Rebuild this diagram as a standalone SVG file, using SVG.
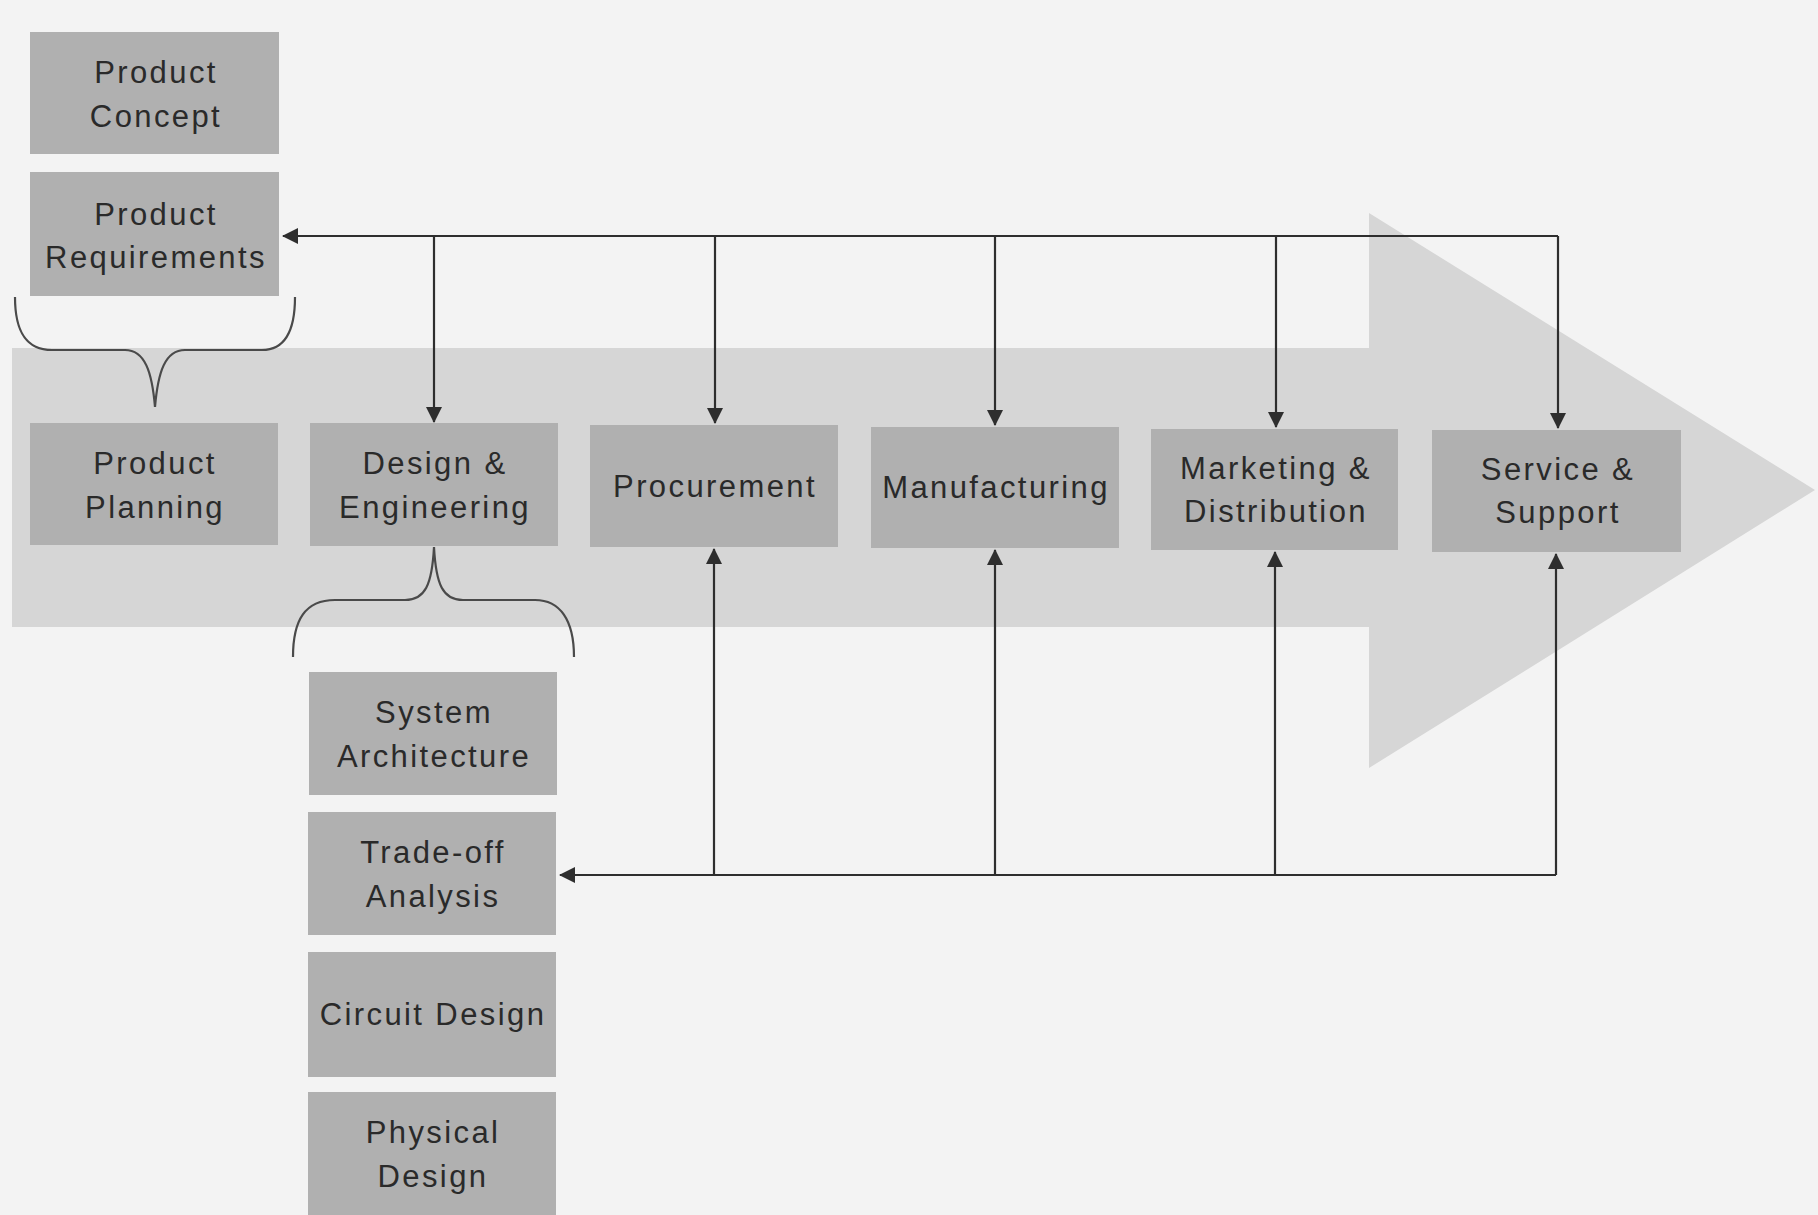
<svg xmlns="http://www.w3.org/2000/svg" width="1818" height="1215" viewBox="0 0 1818 1215">
<style>
.box{fill:#b0b0b0}
.lbl{font-family:"Liberation Sans",Arial,Helvetica,sans-serif;font-size:31px;letter-spacing:2.4px;fill:#2a2a2a;text-anchor:middle}
.ln{stroke:#2e2e2e;stroke-width:2.2;fill:none}
.brace{stroke:#4a4a4a;stroke-width:2.2;fill:none}
</style>
<defs>
<marker id="ah" viewBox="0 0 16 16" refX="15" refY="8" markerWidth="16" markerHeight="16" markerUnits="userSpaceOnUse" orient="auto">
<path d="M0,0 L16,8 L0,16 Z" fill="#2e2e2e"/>
</marker>
</defs>
<rect x="0" y="0" width="1818" height="1215" fill="#f3f3f3"/>
<polygon id="big-arrow" points="12,348 1369,348 1369,213 1815,490 1369,768 1369,627 12,627" fill="#d6d6d6"/>
<g id="braces">
<path class="brace" d="M15,297 C15,330 25,350 52,350 L125,350 C145,350 152,372 155,407 C158,372 165,350 185,350 L262,350 C285,350 295,330 295,297"/>
<path class="brace" d="M293,657 C293,620 305,600 335,600 L405,600 C425,600 432,585 434,547 C436,585 443,600 463,600 L535,600 C560,600 574,620 574,657"/>
</g>
<g id="n-concept"><rect class="box" x="30" y="32" width="249" height="122"/><text class="lbl" x="156" y="83">Product</text><text class="lbl" x="156" y="127">Concept</text></g>
<g id="n-requirements"><rect class="box" x="30" y="172" width="249" height="124"/><text class="lbl" x="156" y="225">Product</text><text class="lbl" x="156" y="268">Requirements</text></g>
<g id="n-planning"><rect class="box" x="30" y="423" width="248" height="122"/><text class="lbl" x="155" y="474">Product</text><text class="lbl" x="155" y="518">Planning</text></g>
<g id="n-design"><rect class="box" x="310" y="423" width="248" height="123"/><text class="lbl" x="435" y="474">Design &amp;</text><text class="lbl" x="435" y="518">Engineering</text></g>
<g id="n-procurement"><rect class="box" x="590" y="425" width="248" height="122"/><text class="lbl" x="715" y="497">Procurement</text></g>
<g id="n-manufacturing"><rect class="box" x="871" y="427" width="248" height="121"/><text class="lbl" x="996" y="498">Manufacturing</text></g>
<g id="n-marketing"><rect class="box" x="1151" y="429" width="247" height="121"/><text class="lbl" x="1276" y="479">Marketing &amp;</text><text class="lbl" x="1276" y="522">Distribution</text></g>
<g id="n-service"><rect class="box" x="1432" y="430" width="249" height="122"/><text class="lbl" x="1558" y="480">Service &amp;</text><text class="lbl" x="1558" y="523">Support</text></g>
<g id="n-sysarch"><rect class="box" x="309" y="672" width="248" height="123"/><text class="lbl" x="434" y="723">System</text><text class="lbl" x="434" y="767">Architecture</text></g>
<g id="n-tradeoff"><rect class="box" x="308" y="812" width="248" height="123"/><text class="lbl" x="433" y="863">Trade-off</text><text class="lbl" x="433" y="907">Analysis</text></g>
<g id="n-circuit"><rect class="box" x="308" y="952" width="248" height="125"/><text class="lbl" x="433" y="1025">Circuit Design</text></g>
<g id="n-physical"><rect class="box" x="308" y="1092" width="248" height="123"/><text class="lbl" x="433" y="1143">Physical</text><text class="lbl" x="433" y="1187">Design</text></g>
<g id="connectors">
<path class="ln" d="M1558,236 L283,236" marker-end="url(#ah)"/>
<path class="ln" d="M434,236 L434,422" marker-end="url(#ah)"/>
<path class="ln" d="M715,236 L715,423" marker-end="url(#ah)"/>
<path class="ln" d="M995,236 L995,425" marker-end="url(#ah)"/>
<path class="ln" d="M1276,236 L1276,427" marker-end="url(#ah)"/>
<path class="ln" d="M1558,236 L1558,428" marker-end="url(#ah)"/>
<path class="ln" d="M1556,875 L560,875" marker-end="url(#ah)"/>
<path class="ln" d="M714,875 L714,549" marker-end="url(#ah)"/>
<path class="ln" d="M995,875 L995,550" marker-end="url(#ah)"/>
<path class="ln" d="M1275,875 L1275,552" marker-end="url(#ah)"/>
<path class="ln" d="M1556,875 L1556,554" marker-end="url(#ah)"/>
</g>
</svg>
